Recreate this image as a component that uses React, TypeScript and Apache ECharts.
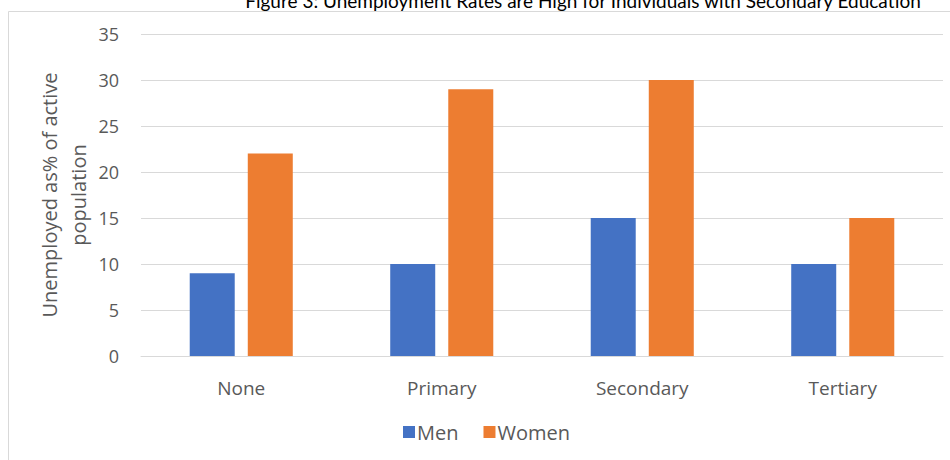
import React, { useEffect, useRef } from "react";
import * as echarts from "echarts";

const categories = ["None", "Primary", "Secondary", "Tertiary"];
const menValues = [9, 10, 15, 10];
const womenValues = [22, 29, 30, 15];
const seriesNames = ["Men", "Women"];
const titleText = "Figure 3: Unemployment Rates are High for Individuals with Secondary Education";
const yAxisTitle = "Unemployed as% of active\npopulation";

const TITLE_FONT = "Lato, 'Open Sans', sans-serif";
const FONT = "'Open Sans', 'Noto Sans', sans-serif";

export default function App() {
  const ref = useRef<HTMLDivElement>(null);
  useEffect(() => {
    if (!ref.current) return;
    const chart = echarts.init(ref.current, null, { renderer: "svg" });
    chart.setOption({
      animation: false,
      backgroundColor: "#ffffff",
      textStyle: { fontFamily: FONT },
      graphic: [
        {
          type: "rect",
          shape: { x: 8.5, y: 11.5, width: 960, height: 500 },
          style: { fill: "none", stroke: "#D9D9D9", lineWidth: 1 },
          silent: true,
          z: 0,
        },
        {
          type: "text",
          x: 583,
          y: 10,
          style: {
            text: titleText,
            fontFamily: TITLE_FONT,
            fontSize: 19,
            fill: "#000000",
            align: "center",
            verticalAlign: "bottom",
          },
        },
        {
          type: "text",
          x: 64,
          y: 195,
          rotation: Math.PI / 2,
          style: {
            text: yAxisTitle,
            fontFamily: FONT,
            fontSize: 20,
            lineHeight: 29,
            fill: "#595959",
            align: "center",
            verticalAlign: "middle",
          },
        },
      ],
      legend: {
        data: seriesNames,
        left: 398,
        top: 417,
        itemWidth: 12,
        itemHeight: 12,
        itemGap: 25,
        icon: "rect",
        textStyle: { fontFamily: FONT, fontSize: 20, color: "#595959", padding: [0, 0, 0, -3] },
      },
      grid: { left: 141, right: 7, top: 34, bottom: 104, containLabel: false },
      xAxis: {
        type: "category",
        data: categories,
        axisTick: { show: false },
        axisLine: { lineStyle: { color: "#D9D9D9", width: 1 } },
        axisLabel: { color: "#595959", fontSize: 19, fontFamily: FONT, margin: 22 },
      },
      yAxis: {
        type: "value",
        min: 0,
        max: 35,
        interval: 5,
        axisLine: { show: false },
        axisTick: { show: false },
        splitLine: { lineStyle: { color: "#D9D9D9", width: 1 } },
        axisLabel: { color: "#595959", fontSize: 18, fontFamily: FONT, margin: 22 },
      },
      series: [
        {
          name: seriesNames[0],
          type: "bar",
          data: menValues,
          barWidth: 45,
          barGap: "29%",
          itemStyle: { color: "#4472C4" },
        },
        {
          name: seriesNames[1],
          type: "bar",
          data: womenValues,
          barWidth: 45,
          itemStyle: { color: "#ED7D31" },
        },
      ],
    });
    return () => chart.dispose();
  }, []);
  return (
    <div
      ref={ref}
      style={{ position: "fixed", left: 0, top: 0, width: 950, height: 460 }}
    />
  );
}
